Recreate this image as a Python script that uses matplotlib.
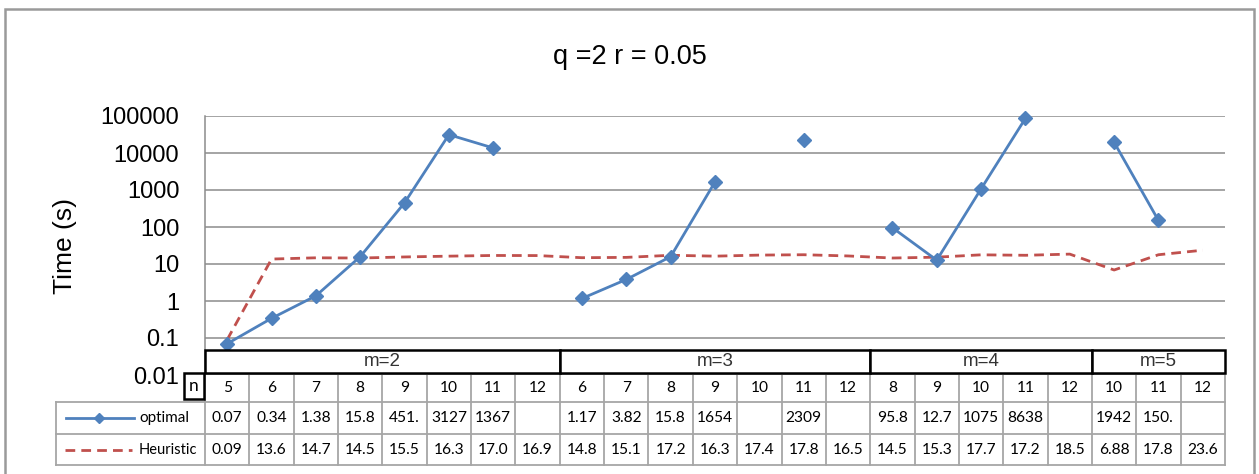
import numpy as np
import matplotlib
matplotlib.use("Agg")
import matplotlib.pyplot as plt
from matplotlib.lines import Line2D
from matplotlib.patches import Rectangle
from matplotlib.transforms import blended_transform_factory

# ---------------- data ----------------
groups = ["m=2", "m=3", "m=4", "m=5"]
group_sizes = [8, 7, 5, 3]
n_labels = [5, 6, 7, 8, 9, 10, 11, 12,
            6, 7, 8, 9, 10, 11, 12,
            8, 9, 10, 11, 12,
            10, 11, 12]
nan = np.nan
optimal = [0.07, 0.34, 1.38, 15.8, 451.0, 31270, 13670, nan,
           1.17, 3.82, 15.8, 1654, nan, 23090, nan,
           95.8, 12.7, 1075, 86380, nan,
           19420, 150.0, nan]
heuristic = [0.09, 13.6, 14.7, 14.5, 15.5, 16.3, 17.0, 16.9,
             14.8, 15.1, 17.2, 16.3, 17.4, 17.8, 16.5,
             14.5, 15.3, 17.7, 17.2, 18.5,
             6.88, 17.8, 23.6]
yticks = [0.01, 0.1, 1, 10, 100, 1000, 10000, 100000]
ytick_labels = ["0.01", "0.1", "1", "10", "100", "1000", "10000", "100000"]
title = "q =2 r = 0.05"
ylabel = "Time (s)"
series_names = ["optimal", "Heuristic"]

# ---------------- style ----------------
W, H = 1259, 474
BLUE = "#4F81BD"
RED = "#C0504D"
GRID = "#8C8C8C"
TGRID = "#A6A6A6"
ARIAL = ["Liberation Sans", "DejaVu Sans"]
CAL = ["Lato", "DejaVu Sans"]
TFS = 11.2

fig = plt.figure(figsize=(W / 100, H / 100), dpi=100)
fig.patch.set_facecolor("white")

def fx(px):
    return px / W

def fy(py):
    return 1 - py / H

ax_l, ax_r, ax_t, ax_b = 205, 1225, 116, 375
ax = fig.add_axes([fx(ax_l), fy(ax_b), (ax_r - ax_l) / W, (ax_b - ax_t) / H])
ncat = len(n_labels)
x = np.arange(ncat)
ax.set_yscale("log")
ax.set_ylim(0.01, 100000)
ax.set_xlim(-0.5, ncat - 0.5)
ax.set_yticks(yticks)
ax.set_yticklabels(ytick_labels, fontfamily=ARIAL, fontsize=17)
ax.minorticks_off()
ax.set_xticks([])
ax.tick_params(axis="y", length=0, pad=18.5)
for s in ["top", "right", "bottom"]:
    ax.spines[s].set_visible(False)
ax.spines["left"].set_color(GRID)
ax.spines["left"].set_linewidth(1.1)
for yv in yticks:
    ax.axhline(yv, color=GRID, lw=1.1, zorder=1)

ax.plot(x, heuristic, color=RED, lw=2.0, linestyle=(0, (3.5, 2.2)), zorder=3, clip_on=False)
ax.plot(x, optimal, color=BLUE, lw=2.0, marker="D", ms=7.5, zorder=4, clip_on=False)

fig.text(0.5, fy(57), title, ha="center", va="center", fontsize=19.5, fontfamily=ARIAL)
fig.text(fx(65), fy(245.5), ylabel, ha="center", va="center", rotation=90,
         fontsize=19, fontfamily=ARIAL)

# ---------------- table ----------------
bt = blended_transform_factory(ax.transData, fig.transFigure)
y_m_top, y_m_bot = 350, 373
y_n_bot = 402
y_o_bot = 434
y_h_bot = 465
tab_left = 56

def fline(xs, ys, color=TGRID, lw=1.3, transform=None):
    fig.add_artist(Line2D(xs, ys, color=color, lw=lw,
                          transform=transform if transform is not None else fig.transFigure,
                          solid_capstyle="projecting"))

for yy in [y_n_bot, y_o_bot, y_h_bot]:
    fline([fx(tab_left), fx(ax_r)], [fy(yy), fy(yy)])
for b in np.arange(-0.5, ncat, 1.0):
    fline([b, b], [fy(y_m_bot), fy(y_h_bot)], transform=bt)
fline([fx(tab_left), fx(tab_left)], [fy(y_n_bot), fy(y_h_bot)])

def fmt(v):
    if np.isnan(v):
        return ""
    return ("%.2f" % v)[:4]

for i in range(ncat):
    fig.text(i, fy((y_m_bot + y_n_bot) / 2), str(n_labels[i]), transform=bt,
             ha="center", va="center", fontsize=TFS, fontfamily=CAL)
    fig.text(i, fy((y_n_bot + y_o_bot) / 2), fmt(optimal[i]), transform=bt,
             ha="center", va="center", fontsize=TFS, fontfamily=CAL)
    fig.text(i, fy((y_o_bot + y_h_bot) / 2), fmt(heuristic[i]), transform=bt,
             ha="center", va="center", fontsize=TFS, fontfamily=CAL)

start = -0.5
for g, sz in zip(groups, group_sizes):
    rect = Rectangle((start, fy(y_m_bot)), sz, fy(y_m_top) - fy(y_m_bot), transform=bt,
                     facecolor="white", edgecolor="black", lw=1.8, zorder=5)
    fig.add_artist(rect)
    fig.text(start + sz / 2, fy((y_m_top + y_m_bot) / 2), g, transform=bt,
             ha="center", va="center", fontsize=13.5, fontfamily=ARIAL, color="#333333",
             zorder=6)
    start += sz

fig.add_artist(Rectangle((fx(184), fy(399)), fx(204) - fx(184), fy(373) - fy(399),
                         transform=fig.transFigure, facecolor="white",
                         edgecolor="black", lw=1.8, zorder=5))
fig.text(fx(194), fy(386), "n", ha="center", va="center", fontsize=12.5,
         fontfamily=CAL, zorder=6)

yo = fy((y_n_bot + y_o_bot) / 2)
yh = fy((y_o_bot + y_h_bot) / 2)
fig.add_artist(Line2D([fx(66), fx(134)], [yo, yo], color=BLUE, lw=2.0,
                      transform=fig.transFigure))
fig.add_artist(Line2D([fx(99)], [yo], color=BLUE, marker="D", ms=5.5,
                      transform=fig.transFigure))
fig.add_artist(Line2D([fx(65), fx(132)], [yh, yh], color=RED, lw=2.0,
                      linestyle=(0, (3.5, 2.2)), transform=fig.transFigure))
fig.text(fx(139), yo, series_names[0], ha="left", va="center", fontsize=11, fontfamily=CAL)
fig.text(fx(139), yh, series_names[1], ha="left", va="center", fontsize=10.5, fontfamily=CAL)

fig.add_artist(Rectangle((fx(5), fy(490)), fx(1254) - fx(5), fy(9) - fy(490),
                         transform=fig.transFigure, facecolor="none",
                         edgecolor="#9A9A9A", lw=1.8, clip_on=False))

fig.savefig("out.png", dpi=100)
